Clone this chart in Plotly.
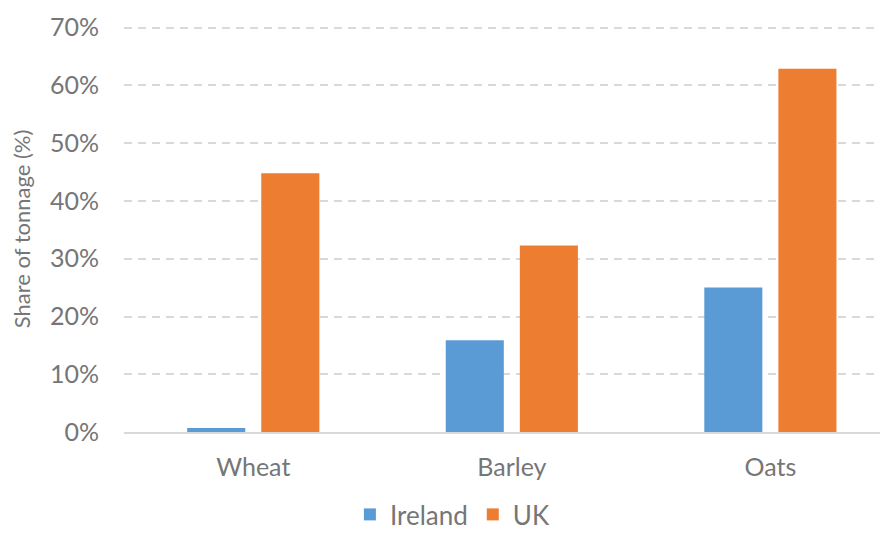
import plotly.graph_objects as go

categories = ["Wheat", "Barley", "Oats"]
ireland = [0.7, 15.9, 25.0]
uk = [44.8, 32.3, 62.9]
y_ticks = [0, 10, 20, 30, 40, 50, 60, 70]
y_tick_labels = [f"{v}%" for v in y_ticks]

FONT = "Lato, Open Sans, sans-serif"
GREY = "#767676"

fig = go.Figure()
fig.add_trace(go.Bar(name="Ireland", x=categories, y=ireland, marker_color="#5B9BD5",
                     marker_line_width=0))
fig.add_trace(go.Bar(name="UK", x=categories, y=uk, marker_color="#ED7D31",
                     marker_line_width=0))

fig.update_layout(
    width=880, height=530,
    margin=dict(l=116, r=0, t=18, b=106, autoexpand=False),
    plot_bgcolor="white", paper_bgcolor="white",
    barmode="group", bargap=0.427, bargroupgap=0.216,
    font=dict(family=FONT, color=GREY, size=24),
    showlegend=True,
    legend=dict(orientation="h", x=0.505, xanchor="center", yref="container", y=0.0,
                yanchor="bottom", xref="container",
                font=dict(size=26, color=GREY), itemwidth=30, traceorder="normal"),
    xaxis=dict(range=[-0.5, 2.455], showgrid=False, showline=True, linecolor="#D9D9D9",
               linewidth=2, ticks="", tickfont=dict(size=25, color=GREY), automargin=False,
               ticklabelstandoff=12),
    yaxis=dict(range=[0, 70.3], tickvals=y_ticks, ticktext=y_tick_labels,
               showgrid=True, gridcolor="#D9D9D9", griddash="8px,6px", gridwidth=2,
               zeroline=False, showline=False, ticks="", ticklabelstandoff=24,
               tickfont=dict(size=25, color=GREY), automargin=False,
               title=dict(text="Share of tonnage (%)", font=dict(size=22, color=GREY), standoff=14)),
)

fig.write_html("out.html")
